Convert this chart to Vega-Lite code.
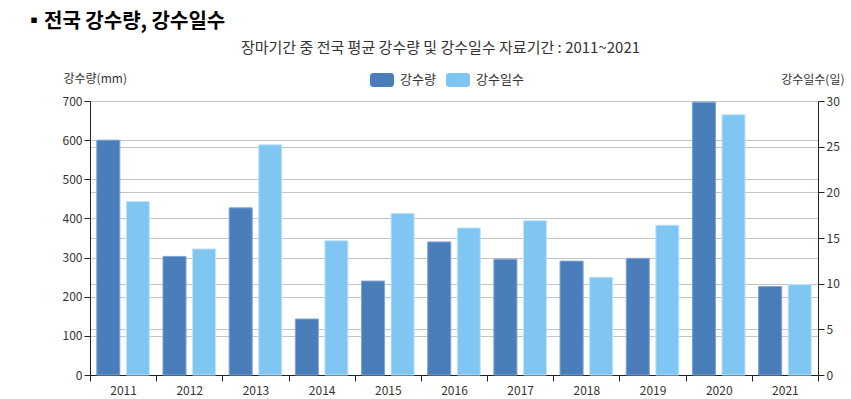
{
  "$schema": "https://vega.github.io/schema/vega-lite/v6.json",
  "autosize": {"type": "none"},
  "width": 728,
  "height": 274,
  "padding": {"left": 90, "top": 101, "right": 33, "bottom": 24},
  "background": "white",
  "config": {
    "font": "Noto Sans CJK KR",
    "view": {"stroke": null},
    "axis": {
      "labelFont": "Noto Sans CJK KR",
      "titleFont": "Noto Sans CJK KR",
      "labelColor": "#333333",
      "titleColor": "#333333",
      "domainColor": "#222222",
      "tickColor": "#222222",
      "gridColor": "#c4c4c4",
      "labelFontSize": 12,
      "titleFontSize": 12,
      "titleFontWeight": "normal",
      "tickSize": 6
    }
  },
  "title": {
    "text": "▪전국 강수량, 강수일수",
    "anchor": "start",
    "frame": "group",
    "dx": -66,
    "offset": 8,
    "fontSize": 20,
    "fontWeight": "bold",
    "color": "#000000",
    "font": "Noto Sans CJK KR"
  },
  "data": {
    "values": [
      {"year": "2011", "series": "강수량", "value": 600},
      {"year": "2011", "series": "강수일수", "value": 19.0},
      {"year": "2012", "series": "강수량", "value": 303},
      {"year": "2012", "series": "강수일수", "value": 13.8},
      {"year": "2013", "series": "강수량", "value": 427},
      {"year": "2013", "series": "강수일수", "value": 25.2},
      {"year": "2014", "series": "강수량", "value": 143},
      {"year": "2014", "series": "강수일수", "value": 14.7},
      {"year": "2015", "series": "강수량", "value": 240},
      {"year": "2015", "series": "강수일수", "value": 17.7},
      {"year": "2016", "series": "강수량", "value": 340},
      {"year": "2016", "series": "강수일수", "value": 16.1},
      {"year": "2017", "series": "강수량", "value": 296},
      {"year": "2017", "series": "강수일수", "value": 16.9},
      {"year": "2018", "series": "강수량", "value": 291},
      {"year": "2018", "series": "강수일수", "value": 10.7},
      {"year": "2019", "series": "강수량", "value": 298},
      {"year": "2019", "series": "강수일수", "value": 16.4},
      {"year": "2020", "series": "강수량", "value": 697},
      {"year": "2020", "series": "강수일수", "value": 28.5},
      {"year": "2021", "series": "강수량", "value": 226},
      {"year": "2021", "series": "강수일수", "value": 9.9}
    ]
  },
  "encoding": {
    "x": {
      "field": "year",
      "type": "nominal",
      "scale": {"paddingInner": 0, "paddingOuter": 0},
      "axis": {
        "labelAngle": 0,
        "tickBand": "extent",
        "labelPadding": 4,
        "labelFontSize": 12,
        "title": "장마기간 중 전국 평균 강수량 및 강수일수 자료기간 : 2011~2021",
        "titleX": 350,
        "titleY": -328,
        "titleAlign": "center",
        "titleBaseline": "middle",
        "titleFontSize": 15,
        "titleColor": "#333333"
      }
    },
    "xOffset": {
      "field": "series",
      "type": "nominal",
      "scale": {"domain": ["강수량", "강수일수"], "paddingInner": 0.22, "paddingOuter": 0.23}
    },
    "color": {
      "field": "series",
      "type": "nominal",
      "scale": {"domain": ["강수량", "강수일수"], "range": ["#4a7ebb", "#7fc6f2"]},
      "legend": {
        "orient": "none",
        "legendX": 280,
        "legendY": -33,
        "direction": "horizontal",
        "title": null,
        "symbolType": "M-0.75,-0.583H0.75A0.25,0.25 0 0 1 1,-0.333V0.333A0.25,0.25 0 0 1 0.75,0.583H-0.75A0.25,0.25 0 0 1 -1,0.333V-0.333A0.25,0.25 0 0 1 -0.75,-0.583Z",
        "symbolSize": 576,
        "symbolStrokeWidth": 0,
        "symbolOpacity": 1,
        "labelFontSize": 13,
        "labelColor": "#333333",
        "labelOffset": 6,
        "columnPadding": 10
      }
    }
  },
  "layer": [
    {
      "transform": [{"filter": "datum.series === '강수량'"}],
      "mark": {"type": "bar", "stroke": "#7da4d4", "strokeWidth": 1},
      "encoding": {
        "y": {
          "field": "value",
          "type": "quantitative",
          "scale": {"domain": [0, 700], "nice": false},
          "axis": {
            "values": [0, 100, 200, 300, 400, 500, 600, 700],
            "grid": true,
            "labelPadding": 2,
            "title": "강수량(mm)",
            "titleAngle": 0,
            "titleX": -27,
            "titleY": -23,
            "titleAlign": "left",
            "titleBaseline": "middle"
          }
        }
      }
    },
    {
      "transform": [{"filter": "datum.series === '강수일수'"}],
      "mark": {"type": "bar", "stroke": "#c2e5fa", "strokeWidth": 1},
      "encoding": {
        "y": {
          "field": "value",
          "type": "quantitative",
          "scale": {"domain": [0, 30], "nice": false},
          "axis": {
            "orient": "right",
            "values": [0, 5, 10, 15, 20, 25, 30],
            "grid": true,
            "labelPadding": 2,
            "title": "강수일수(일)",
            "titleAngle": 0,
            "titleX": 26,
            "titleY": -22,
            "titleAlign": "right",
            "titleBaseline": "middle"
          }
        }
      }
    }
  ],
  "resolve": {"scale": {"y": "independent"}}
}
